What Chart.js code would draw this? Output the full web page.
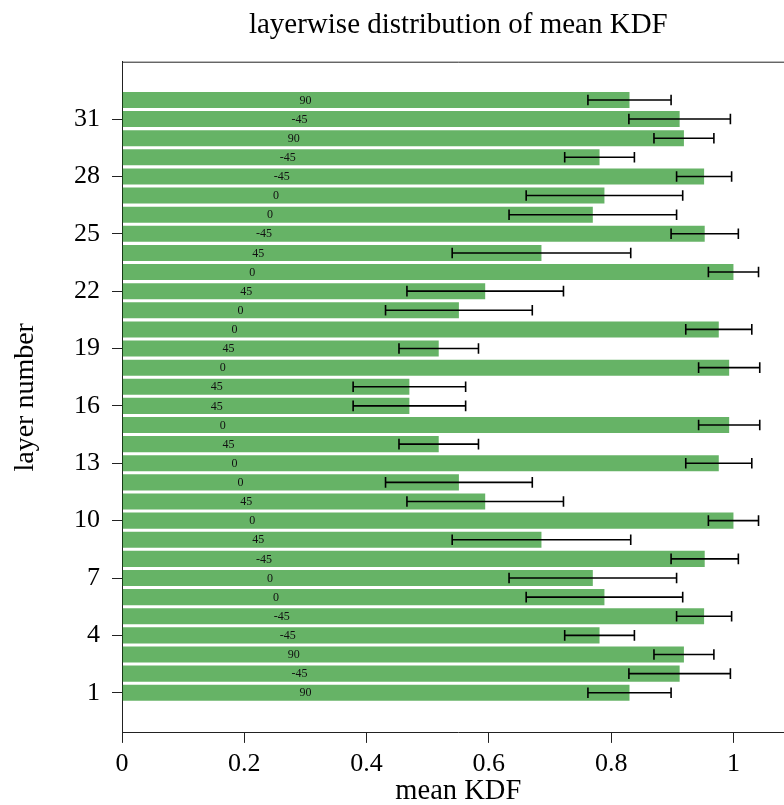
<!DOCTYPE html>
<html>
<head>
<meta charset="utf-8">
<script src="https://cdn.jsdelivr.net/npm/chart.js@4/dist/chart.umd.min.js"></script>
<style>
html,body{margin:0;padding:0;overflow:hidden;background:#fff;width:784px;height:805px}
canvas{display:block}
</style>
</head>
<body>
<canvas id="c" width="800" height="805" style="width:800px;height:805px"></canvas>
<script>
// ---- data ----
const layers = [1,2,3,4,5,6,7,8,9,10,11,12,13,14,15,16,17,18,19,20,21,22,23,24,25,26,27,28,29,30,31,32];
const meanKDF = [0.830,0.912,0.919,0.781,0.952,0.789,0.770,0.953,0.686,1.000,0.594,0.551,0.976,0.518,0.993,0.470,
                 0.470,0.993,0.518,0.976,0.551,0.594,1.000,0.686,0.953,0.770,0.789,0.952,0.781,0.919,0.912,0.830];
const stdKDF  = [0.068,0.083,0.049,0.057,0.045,0.128,0.137,0.055,0.146,0.041,0.128,0.120,0.054,0.065,0.050,0.092,
                 0.092,0.050,0.065,0.054,0.120,0.128,0.041,0.146,0.055,0.137,0.128,0.045,0.057,0.049,0.083,0.068];
const plyAngles = ['90','-45','90','-45','-45','0','0','-45','45','0','45','0','0','45','0','45',
                   '45','0','45','0','0','45','0','45','-45','0','0','-45','-45','90','-45','90'];
const xTickValues = [0,0.2,0.4,0.6,0.8,1];
const yTickValues = [1,4,7,10,13,16,19,22,25,28,31];

const FONT = "'Liberation Serif', 'Times New Roman', serif";
Chart.defaults.font.family = FONT;
Chart.defaults.color = '#000';

const AX = '#222';

// label x-position inside each bar (staggered toward the mid-plane)
function labelPos(i){
  const mid = (layers.length - 1) / 2;
  return 0.155 + 0.00967 * (Math.abs(i - mid) - 0.5);
}

const errorBars = {
  id: 'errorBars',
  afterDatasetsDraw(chart){
    const {ctx, scales:{x, y}} = chart;
    ctx.save();
    ctx.strokeStyle = '#000';
    ctx.lineWidth = 1.6;
    layers.forEach((l, i) => {
      const py = y.getPixelForValue(l);
      const x1 = x.getPixelForValue(meanKDF[i] - stdKDF[i]);
      const x2 = x.getPixelForValue(meanKDF[i] + stdKDF[i]);
      ctx.beginPath();
      ctx.moveTo(x1, py); ctx.lineTo(x2, py);
      ctx.moveTo(x1, py - 5.3); ctx.lineTo(x1, py + 5.3);
      ctx.moveTo(x2, py - 5.3); ctx.lineTo(x2, py + 5.3);
      ctx.stroke();
    });
    ctx.restore();
  }
};

const plyLabels = {
  id: 'plyLabels',
  afterDatasetsDraw(chart){
    const {ctx, scales:{x, y}} = chart;
    ctx.save();
    ctx.fillStyle = '#111';
    ctx.font = '12px ' + FONT;
    ctx.textAlign = 'center';
    ctx.textBaseline = 'middle';
    layers.forEach((l, i) => {
      ctx.fillText(plyAngles[i], x.getPixelForValue(labelPos(i)), y.getPixelForValue(l) + 0.5);
    });
    ctx.restore();
  }
};

const frame = {
  id: 'frame',
  afterDraw(chart){
    const {ctx, chartArea:a} = chart;
    ctx.save();
    ctx.strokeStyle = AX;
    ctx.lineWidth = 1;
    ctx.beginPath();
    ctx.moveTo(a.left, a.top + 0.5);
    ctx.lineTo(a.right, a.top + 0.5);
    ctx.lineTo(a.right, a.bottom);
    ctx.stroke();
    ctx.restore();
  }
};

new Chart(document.getElementById('c'), {
  type: 'bar',
  data: {
    datasets: [{
      label: 'mean KDF',
      data: layers.map((l, i) => ({x: meanKDF[i], y: l})),
      backgroundColor: 'rgba(0,128,0,0.6)',
      borderWidth: 0,
      categoryPercentage: 0.84,
      barPercentage: 1.0
    }]
  },
  options: {
    indexAxis: 'y',
    responsive: false,
    animation: false,
    layout: { padding: { left: 0, right: 5.4, top: 0, bottom: 0 } },
    plugins: {
      legend: { display: false },
      tooltip: { enabled: false },
      title: {
        display: true,
        text: 'layerwise distribution of mean KDF',
        fullSize: false,
        color: '#000',
        font: { size: 29, weight: 'normal', family: FONT, lineHeight: 1.2 },
        padding: { top: 7.5, bottom: 19.4 }
      }
    },
    scales: {
      x: {
        type: 'linear',
        min: 0, max: 1.1,
        afterBuildTicks(s){ s.ticks = xTickValues.map(v => ({value: v})); },
        ticks: {
          font: { size: 26, lineHeight: 1.0 },
          color: '#000',
          padding: 7.8,
          callback: v => String(Math.round(v * 10) / 10)
        },
        grid: { drawOnChartArea: false, drawTicks: true, tickLength: 10, color: AX, tickWidth: 1 },
        border: { display: true, color: AX, width: 1 },
        title: {
          display: true, text: 'mean KDF', color: '#000',
          font: { size: 28.5, lineHeight: 1.0 },
          padding: { top: -7, bottom: -1 }
        }
      },
      y: {
        type: 'linear',
        offset: false,
        min: -1.1, max: 34,
        afterBuildTicks(s){ s.ticks = yTickValues.map(v => ({value: v})); },
        ticks: {
          font: { size: 26 },
          color: '#000',
          padding: 12,
          callback: v => String(v)
        },
        grid: { offset: false, drawOnChartArea: false, drawTicks: true, tickLength: 10, color: AX, tickWidth: 1 },
        border: { display: true, color: AX, width: 1 },
        title: {
          display: true, text: 'layer number', color: '#000',
          font: { size: 28, lineHeight: 1.2 },
          padding: { top: 8.6, bottom: 19.8 }
        }
      }
    }
  },
  plugins: [errorBars, plyLabels, frame]
});
</script>
</body>
</html>
